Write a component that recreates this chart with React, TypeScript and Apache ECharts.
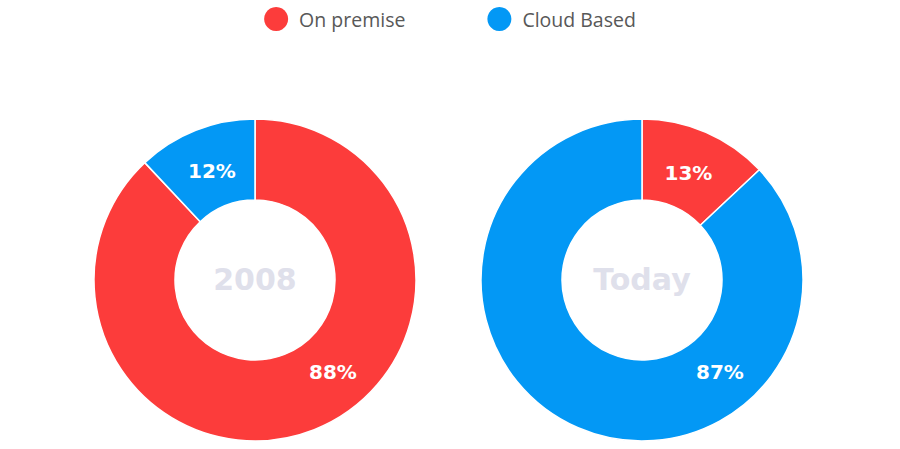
import React, { useEffect, useRef } from "react";
import * as echarts from "echarts";

const categories = ["On premise", "Cloud Based"];
const colors = ["#fc3c3b", "#0398f5"];
const years = ["2008", "Today"];
const values2008 = [88, 12];
const valuesToday = [13, 87];
const pieCentersX = [255, 642];
const pieCenterY = 280;

export default function App() {
  const ref = useRef<HTMLDivElement>(null);
  useEffect(() => {
    document.body.style.margin = "0";
    const chart = echarts.init(ref.current!, null, { renderer: "svg" });
    const boldFont = "'DejaVu Sans', sans-serif";
    const legendFont = "'Open Sans', sans-serif";
    const bigR = 120;
    const smallR = 117;
    const bigAngle = (49.5 * Math.PI) / 180;
    const mk = (vals: number[], idx: number) => ({
      type: "pie",
      center: [pieCentersX[idx], pieCenterY],
      radius: [80, 161],
      startAngle: 90,
      clockwise: true,
      avoidLabelOverlap: false,
      itemStyle: { borderColor: "#fff", borderWidth: 1.5 },
      label: {
        show: true,
        position: "inside",
        formatter: "{c}%",
        color: "#fff",
        fontFamily: boldFont,
        fontWeight: "bold",
        fontSize: 20,
      },
      labelLine: { show: false },
      labelLayout: (p: any) => {
        const total = vals.reduce((a, b) => a + b, 0);
        const cx = pieCentersX[idx];
        if (vals[p.dataIndex] > 50) {
          return {
            x: cx + bigR * Math.cos(bigAngle),
            y: pieCenterY + bigR * Math.sin(bigAngle) + 1,
            align: "center",
            verticalAlign: "middle",
          };
        }
        let cum = 0;
        for (let k = 0; k < p.dataIndex; k++) cum += vals[k];
        const mid = ((90 - (360 * (cum + vals[p.dataIndex] / 2)) / total) * Math.PI) / 180;
        return {
          x: cx + smallR * Math.cos(mid),
          y: pieCenterY - smallR * Math.sin(mid),
          align: "center",
          verticalAlign: "middle",
        };
      },
      emphasis: { disabled: true },
      data: categories.map((c, i) => ({ name: c, value: vals[i], itemStyle: { color: colors[i] } })),
    });
    chart.setOption({
      animation: false,
      color: colors,
      legend: {
        top: 7,
        left: "center",
        padding: 0,
        icon: "circle",
        itemWidth: 24,
        itemHeight: 24,
        itemGap: 82,
        itemStyle: { borderWidth: 0 },
        textStyle: { fontFamily: legendFont, fontSize: 19.5, color: "#585858", padding: [0, 0, 0, 6] },
        data: categories,
      },
      graphic: years.map((y, i) => ({
        type: "text",
        x: pieCentersX[i],
        y: pieCenterY - 1,
        style: {
          text: y,
          textAlign: "center",
          textVerticalAlign: "middle",
          fontFamily: boldFont,
          fontSize: 30,
          fontWeight: "bold",
          fill: "#dfe0eb",
        },
      })),
      series: [mk(values2008, 0), mk(valuesToday, 1)],
    });
    return () => chart.dispose();
  }, []);
  return <div ref={ref} style={{ width: 900, height: 449 }} />;
}
